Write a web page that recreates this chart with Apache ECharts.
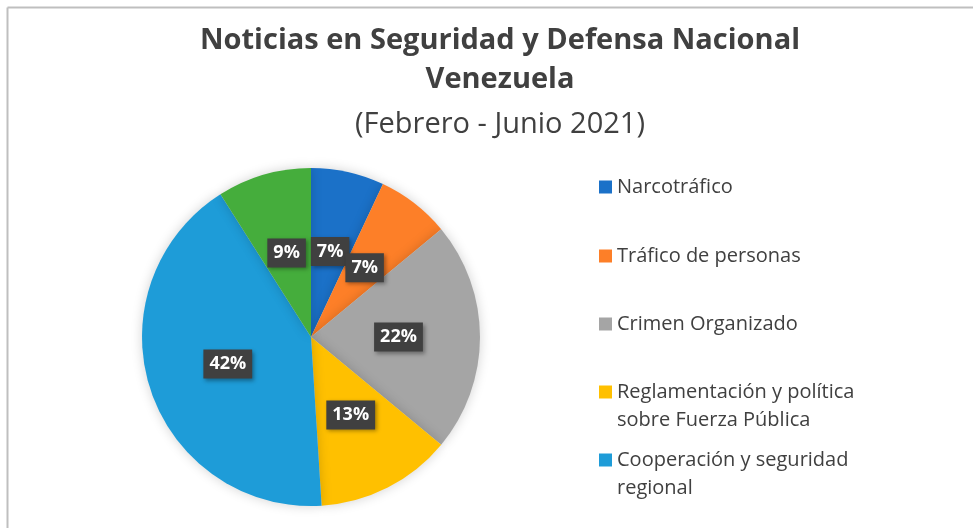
<!DOCTYPE html>
<html>
<head>
<meta charset="utf-8">
<script src="https://cdn.jsdelivr.net/npm/echarts@6/dist/echarts.min.js"></script>
<style>
    html, body { margin: 0; padding: 0; background: #fff; }
    #chart { width: 973px; height: 528px; }
</style>
</head>
<body>
<div id="chart"></div>
<script>
// categories and shares (%), clockwise from 12 o'clock
const categories = [
    'Narcotráfico',
    'Tráfico de personas',
    'Crimen Organizado',
    'Reglamentación y política\nsobre Fuerza Pública',
    'Cooperación y seguridad\nregional',
    'Otros'
]
const shares = [7, 7, 22, 13, 42, 9]
const colors = ['#1b71c8', '#fd7f28', '#a5a5a5', '#ffc000', '#1e9cd8', '#45ad3c']

// only the first five appear in the legend (the sixth is cut off in the original)
const legendTops = [173, 242, 310, 350, 418]

const font = '"Open Sans", "Noto Sans", sans-serif'
const chart = echarts.init(document.getElementById('chart'))

// two-line names get a blank first line so the icon lines up with the first text line
const legends = legendTops.map((top, i) => ({
    orient: 'vertical',
    left: 599,
    top: top,
    padding: 0,
    itemWidth: 13,
    itemHeight: 13,
    icon: 'rect',
    selectedMode: false,
    data: [categories[i]],
    formatter: name => name.includes('\n') ? ' \n' + name : name,
    textStyle: {
        fontFamily: font,
        fontSize: 20,
        color: '#404040',
        lineHeight: 28
    }
}))

chart.setOption({
    animation: false,
    color: colors,
    title: {
        text: 'Noticias en Seguridad y Defensa Nacional\nVenezuela',
        subtext: '(Febrero - Junio 2021)',
        left: 500,
        top: 21,
        padding: 0,
        textAlign: 'center',
        itemGap: 6,
        textStyle: {
            fontFamily: font,
            fontWeight: 'bold',
            fontSize: 29,
            lineHeight: 39,
            color: '#404040'
        },
        subtextStyle: {
            fontFamily: font,
            fontSize: 29,
            lineHeight: 39,
            color: '#404040'
        }
    },
    legend: legends,
    graphic: [
        { type: 'line', shape: { x1: 7.5, y1: 7.5, x2: 973, y2: 7.5 }, style: { stroke: '#bfbfbf', lineWidth: 2 } },
        { type: 'line', shape: { x1: 7.5, y1: 7.5, x2: 7.5, y2: 528 }, style: { stroke: '#bfbfbf', lineWidth: 2 } }
    ],
    series: [
        {
            type: 'pie',
            center: [311, 337],
            radius: [0, 169],
            startAngle: 90,
            clockwise: true,
            silent: true,
            itemStyle: {
                shadowBlur: 12,
                shadowColor: 'rgba(0,0,0,0.18)'
            },
            label: {
                position: 'inside',
                formatter: p => p.value + '%',
                fontFamily: font,
                fontWeight: 'bold',
                fontSize: 18,
                color: '#fff',
                backgroundColor: '#404040',
                padding: [6, 6, 5, 6],
                shadowBlur: 4,
                shadowOffsetX: 2,
                shadowOffsetY: 2,
                shadowColor: 'rgba(0,0,0,0.35)'
            },
            labelLayout: { hideOverlap: false },
            labelLine: { show: false },
            data: categories.map((name, i) => ({ name, value: shares[i] }))
        }
    ]
})
</script>
</body>
</html>
